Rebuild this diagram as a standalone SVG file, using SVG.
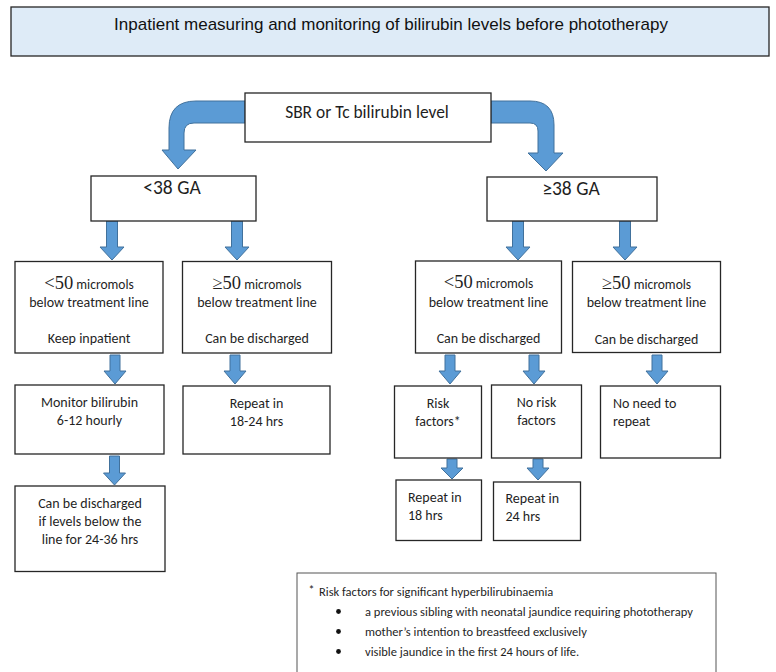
<svg xmlns="http://www.w3.org/2000/svg" width="776" height="672" viewBox="0 0 776 672">
<style>
.bg{fill:#ffffff}
.box{fill:#ffffff;stroke:#262626;stroke-width:1.3}
.title{fill:#deebf7;stroke:#262626;stroke-width:1.3}
.arr{fill:#5b9bd5;stroke:#41719c;stroke-width:1}
.t{font-family:Carlito,Lato,"Liberation Sans",sans-serif;font-size:14px;fill:#1f1f1f;text-anchor:middle}
.tl{font-family:Carlito,Lato,"Liberation Sans",sans-serif;font-size:14px;fill:#1f1f1f}
.big{font-family:"Liberation Serif","Times New Roman",serif;font-size:18.5px}
.mic{font-size:13.5px}
.sbr{font-size:17.4px}
.ga{font-family:Carlito,Lato,"Liberation Sans",sans-serif;font-size:19.5px;fill:#1f1f1f;text-anchor:middle}
.hd{font-family:"Liberation Sans",Arial,sans-serif;font-size:17px;fill:#111;text-anchor:middle}
.fn{font-family:Carlito,Lato,"Liberation Sans",sans-serif;font-size:12.5px;fill:#1f1f1f}
</style>
<rect class="bg" x="0" y="0" width="776" height="672"/>
<g id="connectors">
<path class="arr" d="M245 101 H196 Q169 101 169 128 V150 H162 L178 169 L196 150 H184 V133 Q184 123 194 123 H245 Z"/>
<path class="arr" d="M491 101 H530 Q554 101 554 125 V153 H563 L546 171 L528 153 H538 V131 Q538 123 530 123 H491 Z"/>
<path class="arr" d="M106.5 221 H117.5 V247 H124 L112 260 L100 247 H106.5 Z"/>
<path class="arr" d="M231.5 221 H242.5 V247 H249 L237 260 L225 247 H231.5 Z"/>
<path class="arr" d="M512.5 221 H523.5 V247 H530 L518 260 L506 247 H512.5 Z"/>
<path class="arr" d="M619.5 221 H630.5 V247 H637 L625 260 L613 247 H619.5 Z"/>
<path class="arr" d="M110 355 H120 V371 H126 L115 384 L104 371 H110 Z"/>
<path class="arr" d="M230 355 H240 V371 H246 L235 384 L224 371 H230 Z"/>
<path class="arr" d="M445 355 H455 V371 H461 L450 384 L439 371 H445 Z"/>
<path class="arr" d="M529 355 H539 V371 H545 L534 384 L523 371 H529 Z"/>
<path class="arr" d="M652 355 H662 V371 H668 L657 384 L646 371 H652 Z"/>
<path class="arr" d="M109.5 456 H119.5 V473 H125.5 L114.5 485 L103.5 473 H109.5 Z"/>
<path class="arr" d="M447 459 H457 V468 H463 L452 479 L441 468 H447 Z"/>
<path class="arr" d="M533 459 H543 V468 H549 L538 480 L527 468 H533 Z"/>
</g>
<g id="title">
<rect class="title" x="11" y="7" width="758" height="49"/>
<text class="hd" x="391" y="30">Inpatient measuring and monitoring of bilirubin levels before phototherapy</text>
</g>
<g id="sbr">
<rect class="box" x="245" y="93" width="246" height="49"/>
<text class="t sbr" x="367" y="118">SBR or Tc bilirubin level</text>
</g>
<g id="lt38">
<rect class="box" x="91" y="176" width="165" height="45"/>
<text class="ga" x="172" y="194">&lt;38 GA</text>
</g>
<g id="ge38">
<rect class="box" x="487" y="177" width="170" height="44"/>
<text class="ga" x="571" y="195">≥38 GA</text>
</g>
<g id="a1">
<rect class="box" x="15" y="261.5" width="148" height="91.5"/>
<text class="t" x="89" y="289"><tspan class="big">&lt;50</tspan> <tspan class="mic">micromols</tspan></text>
<text class="t" x="89" y="307">below treatment line</text>
<text class="t" x="89" y="343">Keep inpatient</text>
</g>
<g id="a2">
<rect class="box" x="182.5" y="261.5" width="149" height="91.5"/>
<text class="t" x="257" y="289"><tspan class="big">≥50</tspan> <tspan class="mic">micromols</tspan></text>
<text class="t" x="257" y="307">below treatment line</text>
<text class="t" x="257" y="343">Can be discharged</text>
</g>
<g id="b1">
<rect class="box" x="415.5" y="261" width="146" height="92"/>
<text class="t" x="488.5" y="288"><tspan class="big">&lt;50</tspan> <tspan class="mic">micromols</tspan></text>
<text class="t" x="488.5" y="307">below treatment line</text>
<text class="t" x="488.5" y="343">Can be discharged</text>
</g>
<g id="b2">
<rect class="box" x="572.5" y="261.5" width="148" height="91"/>
<text class="t" x="646.5" y="289"><tspan class="big">≥50</tspan> <tspan class="mic">micromols</tspan></text>
<text class="t" x="646.5" y="307">below treatment line</text>
<text class="t" x="646.5" y="344">Can be discharged</text>
</g>
<g id="monitor">
<rect class="box" x="15" y="385" width="149" height="69"/>
<text class="t" x="89.5" y="407">Monitor bilirubin</text>
<text class="t" x="89.5" y="425">6-12 hourly</text>
</g>
<g id="repeat1824">
<rect class="box" x="183" y="386" width="147" height="68"/>
<text class="t" x="256.5" y="408">Repeat in</text>
<text class="t" x="256.5" y="426">18-24 hrs</text>
</g>
<g id="discharge">
<rect class="box" x="15" y="486" width="150" height="85.5"/>
<text class="t" x="90" y="508">Can be discharged</text>
<text class="t" x="90" y="526">if levels below the</text>
<text class="t" x="90" y="544">line for 24-36 hrs</text>
</g>
<g id="risk">
<rect class="box" x="394.5" y="386" width="87" height="72"/>
<text class="t" x="438" y="408">Risk</text>
<text class="t" x="438" y="426">factors*</text>
</g>
<g id="norisk">
<rect class="box" x="491.5" y="385" width="90" height="73"/>
<text class="t" x="536.5" y="407">No risk</text>
<text class="t" x="536.5" y="424.5">factors</text>
</g>
<g id="noneed">
<rect class="box" x="600.5" y="386" width="120" height="72"/>
<text class="tl" x="613" y="408">No need to</text>
<text class="tl" x="613" y="426">repeat</text>
</g>
<g id="repeat18">
<rect class="box" x="396" y="480" width="85.5" height="60.5"/>
<text class="tl" x="408" y="502">Repeat in</text>
<text class="tl" x="408" y="520">18 hrs</text>
</g>
<g id="repeat24">
<rect class="box" x="493.5" y="482" width="87" height="58.5"/>
<text class="tl" x="505.5" y="503">Repeat in</text>
<text class="tl" x="505.5" y="521">24 hrs</text>
</g>
<g id="footnote">
<rect class="box" x="297" y="573" width="419" height="110" style="stroke:#555;stroke-width:1"/>
<text class="fn" x="308.5" y="594" style="font-size:12px">*</text>
<text class="fn" x="319" y="596">Risk factors for significant hyperbilirubinaemia</text>
<circle cx="338.5" cy="611.5" r="2.4" fill="#111"/>
<circle cx="338.5" cy="631.5" r="2.4" fill="#111"/>
<circle cx="338.5" cy="651.5" r="2.4" fill="#111"/>
<text class="fn" x="365" y="615.5">a previous sibling with neonatal jaundice requiring phototherapy</text>
<text class="fn" x="365" y="635.5">mother’s intention to breastfeed exclusively</text>
<text class="fn" x="365" y="655.5">visible jaundice in the first 24 hours of life.</text>
</g>
</svg>
